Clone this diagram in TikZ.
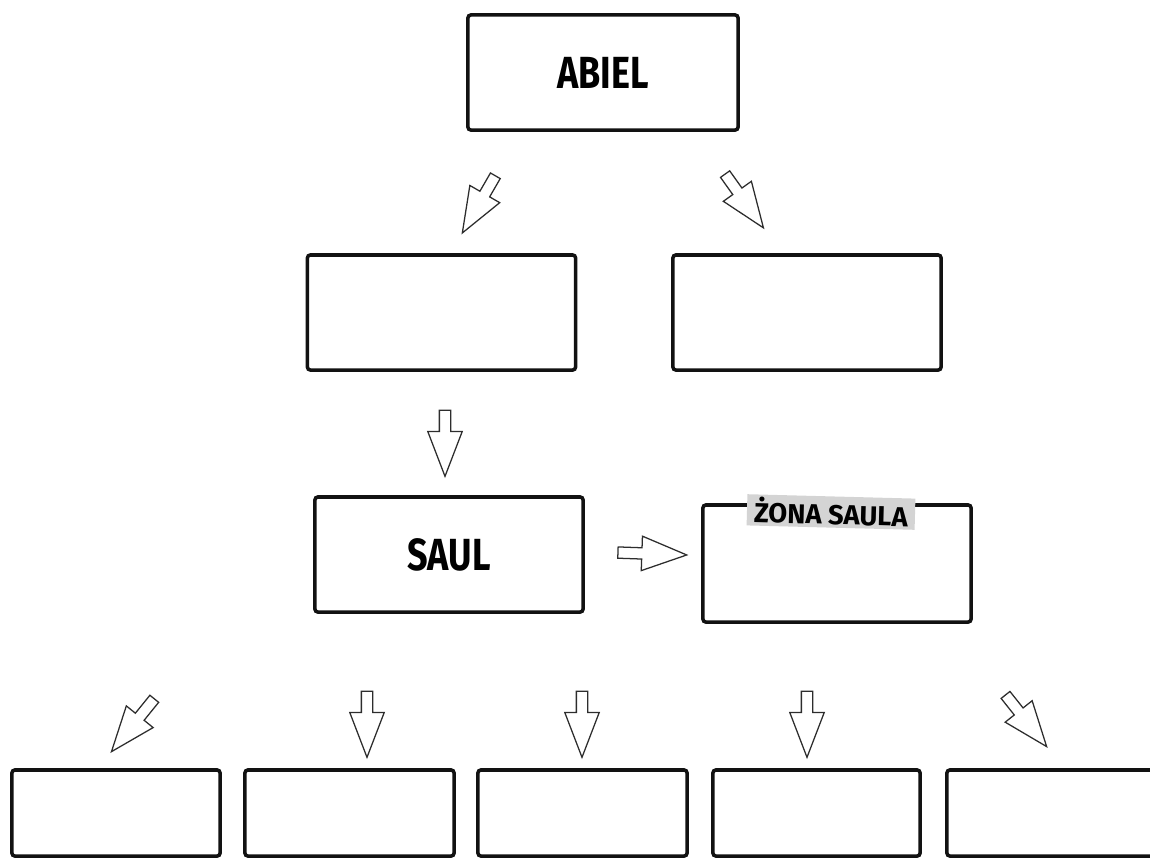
\documentclass[tikz,border=0pt]{standalone}
\usepackage{fontspec}
\setmainfont{Fira Sans}
\usepackage{graphicx}
\usetikzlibrary{positioning, shapes.arrows}
\definecolor{SketchInk}{RGB}{18, 18, 18}
\definecolor{ArrowInk}{RGB}{45, 45, 45}
\definecolor{LabelGrey}{RGB}{212, 212, 212}
\newcommand{\handname}[1]{\scalebox{0.8}[1]{\bfseries #1}}

\tikzset{
	person/.style={shape=rectangle, draw=SketchInk, line width=2.5pt, fill=white, rounded corners=2pt, inner sep=0pt, font=\fontsize{32}{32}\selectfont},
	bigbox/.style={person, minimum width=6.7cm, minimum height=2.875cm},
	kidbox/.style={person, minimum width=5.2cm, minimum height=2.15cm},
	blockarrow/.style={single arrow, draw=ArrowInk, line width=0.9pt, fill=white, inner xsep=0pt, inner ysep=0.125cm, single arrow head extend=0.29cm, single arrow tip angle=42, minimum height=1.65cm},
}

\begin{document}
\begin{tikzpicture}[x=0.025cm, y=-0.025cm]
		\useasboundingbox (0,0) rectangle (1150,857);

		% Abiel
		\node[bigbox, minimum width=6.75cm] (abiel) at (603,72.5) {\handname{ABIEL}};
		\node[blockarrow, rotate=-120] (a1) at (482.5,198) {};
		\node[blockarrow, rotate=-54.5] (a2) at (740,195) {};

		% children of Abiel
		\node[bigbox] (par1) at (441.5,312.5) {};
		\node[bigbox] (par2) at (807,312.5) {};
		\node[blockarrow, rotate=-90] (a3) at (445,436) {};

		% Saul and wife
		\node[bigbox] (saul) at (449,554.5) {\handname{SAUL}};
		\node[blockarrow, rotate=-2, minimum height=1.72cm] (a4) at (645,553.5) {};
		\node[bigbox, minimum height=2.925cm] (wife) at (837,563.5) {};
		\node[fill=LabelGrey, rotate=-1.5, minimum width=4.2cm, minimum height=0.78cm, inner sep=0pt, font=\fontsize{19.5}{19.5}\selectfont\bfseries] (wifelabel) at (831,512) {ŻONA SAULA};

		% children of Saul
		\node[blockarrow, rotate=-129, minimum height=1.7cm] (b1) at (137.5,719.5) {};
		\node[blockarrow, rotate=-90] (b2) at (367,717) {};
		\node[blockarrow, rotate=-90] (b3) at (582,717) {};
		\node[blockarrow, rotate=-90] (b4) at (807,717) {};
		\node[blockarrow, rotate=-51.5] (b5) at (1021.5,715) {};
		\node[kidbox] (kid1) at (116,813) {};
		\node[kidbox, minimum width=5.225cm] (kid2) at (349.5,813) {};
		\node[kidbox, minimum width=5.225cm] (kid3) at (582.5,813) {};
		\node[kidbox, minimum width=5.175cm] (kid4) at (816.5,813) {};
		\node[kidbox, minimum width=5.325cm] (kid5) at (1053.5,813) {};
	\end{tikzpicture}
\end{document}
